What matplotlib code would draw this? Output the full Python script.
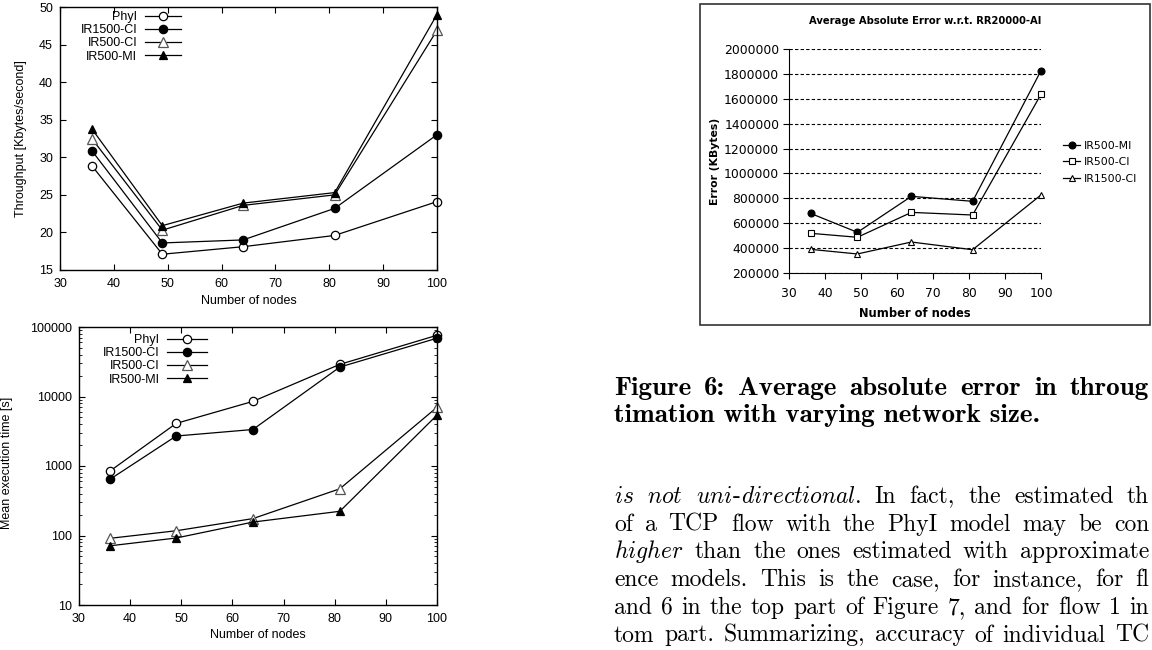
import matplotlib
matplotlib.use("Agg")
import matplotlib.pyplot as plt
from matplotlib.patches import Rectangle
from matplotlib.ticker import FuncFormatter, LogLocator, NullFormatter, MultipleLocator

# ================================================================
# DONNEES
# ================================================================
nodes = [36, 49, 64, 81, 100]

# Debit moyen [Kbytes/s]
thr_phyi = [28.8, 17.1, 18.1, 19.6, 24.1]
thr_ir1500_ci = [30.8, 18.6, 19.0, 23.2, 33.0]
thr_ir500_ci = [32.4, 20.3, 23.6, 25.0, 46.9]
thr_ir500_mi = [33.7, 20.9, 23.9, 25.3, 49.0]

# Temps d'execution moyen [s]
time_phyi = [840, 4100, 8500, 29000, 76000]
time_ir1500_ci = [640, 2700, 3350, 26500, 69000]
time_ir500_ci = [91, 117, 175, 470, 7000]
time_ir500_mi = [71, 92, 156, 223, 5400]

# Erreur absolue moyenne [KBytes]
err_ir500_mi = [679000, 527000, 816000, 776000, 1826000]
err_ir500_ci = [519000, 487000, 687000, 666000, 1636000]
err_ir1500_ci = [390000, 353000, 449000, 387000, 827000]

gp_labels = ["PhyI", "IR1500-CI", "IR500-CI", "IR500-MI"]
err_labels = ["IR500-MI", "IR500-CI", "IR1500-CI"]

# texte visible de la page (coupe au bord droit dans l'original)
caption_lines = ["Figure 6: Average absolute error in throug",
                 "timation with varying network size."]
body_lines = ["In fact, the estimated th",
              "of a TCP flow with the PhyI model may be con",
              "than the ones estimated with approximate",
              "ence models. This is the case, for instance, for fl",
              "and 6 in the top part of Figure 7, and for flow 1 in",
              "tom part. Summarizing, accuracy of individual TC"]

# ================================================================
# FIGURE
# ================================================================
W, H = 1152, 650
plt.rcParams['font.family'] = ['Liberation Sans', 'DejaVu Sans']
plt.rcParams['mathtext.fontset'] = 'cm'

fig = plt.figure(figsize=(W / 100, H / 100), dpi=100)


def px_box(l, t, r, b):
    # rectangle en pixels (origine en haut a gauche) -> coordonnees figure
    return [l / W, 1 - b / H, (r - l) / W, (b - t) / H]


gp_styles = [dict(marker='o', mfc='white', mec='black', ms=6),
             dict(marker='o', mfc='black', mec='black', ms=6),
             dict(marker='^', mfc='white', mec='#555555', ms=6.5),
             dict(marker='^', mfc='black', mec='black', ms=6)]


def gnuplot_style(ax):
    ax.tick_params(direction='in', top=True, right=True, labelsize=9,
                   length=4, width=0.8)
    ax.tick_params(axis='x', pad=6)
    ax.tick_params(axis='y', pad=5)
    for s in ax.spines.values():
        s.set_linewidth(1.0)


# --- Graphique 1 : debit ---
ax1 = fig.add_axes(px_box(60, 7, 437, 270))
for vals, lab, st in zip([thr_phyi, thr_ir1500_ci, thr_ir500_ci, thr_ir500_mi], gp_labels, gp_styles):
    ax1.plot(nodes, vals, color='black', lw=0.9, mew=0.9, label=lab, clip_on=False, **st)
ax1.set_xlim(30, 100)
ax1.set_ylim(15, 50)
ax1.xaxis.set_major_locator(MultipleLocator(10))
ax1.yaxis.set_major_locator(MultipleLocator(5))
gnuplot_style(ax1)
ax1.set_xlabel("Number of nodes", fontsize=9, labelpad=3)
ax1.set_ylabel("Throughput [Kbytes/second]", fontsize=9, labelpad=9)
ax1.legend(loc='upper right', bbox_to_anchor=(0.321, 0.985), frameon=False,
           markerfirst=False, handlelength=2.9, handletextpad=0.6,
           labelspacing=0.1, borderpad=0, borderaxespad=0, numpoints=1, fontsize=9)

# --- Graphique 2 : temps d'execution (log) ---
ax2 = fig.add_axes(px_box(79, 327, 437, 605))
for vals, lab, st in zip([time_phyi, time_ir1500_ci, time_ir500_ci, time_ir500_mi], gp_labels, gp_styles):
    ax2.plot(nodes, vals, color='black', lw=0.9, mew=0.9, label=lab, clip_on=False, **st)
ax2.set_yscale('log')
ax2.set_xlim(30, 100)
ax2.set_ylim(10, 100000)
ax2.xaxis.set_major_locator(MultipleLocator(10))
ax2.yaxis.set_major_locator(LogLocator(base=10))
ax2.yaxis.set_minor_locator(LogLocator(base=10, subs=range(2, 10)))
ax2.yaxis.set_major_formatter(FuncFormatter(lambda v, p: "%d" % v))
ax2.yaxis.set_minor_formatter(NullFormatter())
gnuplot_style(ax2)
ax2.tick_params(which='minor', direction='in', right=True, length=2, width=0.6)
ax2.set_xlabel("Number of nodes", fontsize=9, labelpad=3)
fig.text(7 / W, 1 - 463 / H, "Mean execution time [s]", rotation=90,
         ha='center', va='center', fontsize=9)
ax2.legend(loc='upper right', bbox_to_anchor=(0.3575, 0.975), frameon=False,
           markerfirst=False, handlelength=3.2, handletextpad=0.6,
           labelspacing=0.1, borderpad=0, borderaxespad=0, numpoints=1, fontsize=9)

# --- Graphique 3 : erreur absolue moyenne (style tableur) ---
fig.add_artist(Rectangle((700 / W, 1 - 325 / H), (1150 - 700) / W, (325 - 4) / H,
                         transform=fig.transFigure, fill=False, lw=1.2, ec='#333333'))
ax3 = fig.add_axes(px_box(789, 49, 1041, 273))
err_styles = [dict(marker='o', mfc='black', mec='black', ms=5),
              dict(marker='s', mfc='white', mec='black', ms=5),
              dict(marker='^', mfc='white', mec='black', ms=5)]
for vals, lab, st in zip([err_ir500_mi, err_ir500_ci, err_ir1500_ci], err_labels, err_styles):
    ax3.plot(nodes, vals, color='black', lw=0.9, mew=0.8, label=lab, clip_on=False, **st)
ax3.set_xlim(30, 100)
ax3.set_ylim(200000, 2000000)
ax3.xaxis.set_major_locator(MultipleLocator(10))
ax3.yaxis.set_major_locator(MultipleLocator(200000))
ax3.yaxis.set_major_formatter(FuncFormatter(lambda v, p: "%d" % v))
ax3.spines['top'].set_visible(False)
ax3.spines['right'].set_visible(False)
ax3.yaxis.grid(True, linestyle=(0, (3, 2)), color='black', lw=0.8)
ax3.set_axisbelow(True)
ax3.tick_params(direction='out', length=4, width=0.8, labelsize=8.9)
ax3.tick_params(axis='x', pad=6)
ax3.tick_params(axis='y', pad=3)
for lab in ax3.get_xticklabels() + ax3.get_yticklabels():
    lab.set_fontfamily('DejaVu Sans')
ax3.set_xlabel("Number of nodes", fontsize=8.3, fontweight='bold',
               family='DejaVu Sans', labelpad=5)
ax3.set_ylabel("Error (KBytes)", fontsize=7.8, fontweight='bold',
               family='DejaVu Sans', labelpad=3)
fig.text(925 / W, 1 - 21 / H, "Average Absolute Error w.r.t. RR20000-AI",
         ha='center', va='center', fontsize=7.2, fontweight='bold', family='DejaVu Sans')
ax3.legend(loc='upper left', bbox_to_anchor=(1063 / W, 1 - 141 / H),
           bbox_transform=fig.transFigure, frameon=False, handlelength=1.6,
           handletextpad=0.3, labelspacing=0.58, borderpad=0, borderaxespad=0,
           numpoints=1, prop=dict(family='DejaVu Sans', size=7.8))

# ================================================================
# TEXTE DE L'ARTICLE (legende + paragraphe justifie)
# ================================================================
renderer = fig.canvas.get_renderer()


def font_kw(style, size):
    kw = dict(fontsize=size, va='baseline', ha='left')
    if style == 'bf':
        kw['family'] = 'cmb10'
    elif style == 'rm':
        kw['family'] = 'cmr10'
    return kw


def justified_line(x_px, y_px, tokens, size, right_px):
    # tokens : liste de mots, chaque mot = liste de morceaux (texte, style)
    words = []
    for tok in tokens:
        parts, w = [], 0.0
        for s, style in tok:
            t = fig.text(0, 0, s, **font_kw(style, size))
            parts.append((t, w))
            w += t.get_window_extent(renderer).width
        words.append((parts, w))
    gap = (right_px - x_px - sum(w for _, w in words)) / max(len(words) - 1, 1)
    x = x_px
    for parts, w in words:
        for t, off in parts:
            t.set_position(((x + off) / W, 1 - y_px / H))
        x += w + gap


def words_of(s, style='rm'):
    return [[(w, style)] for w in s.split()]


justified_line(614, 395, words_of(caption_lines[0], 'bf'), 19.5, 1149)
fig.text(614 / W, 1 - 422 / H, caption_lines[1], **font_kw('bf', 19.5))

italic_start = [
    [[(r"$\mathit{is}$", 'it')], [(r"$\mathit{not}$", 'it')],
     [(r"$\mathit{uni}$", 'it'), ("-", 'rm'), (r"$\mathit{directional.}$", 'it')]],
    [],
    [[(r"$\mathit{higher}$", 'it')]],
    [], [], [],
]
for i, (lead, line) in enumerate(zip(italic_start, body_lines)):
    justified_line(614, 503 + i * 27.7, lead + words_of(line), 17, 1149)

fig.savefig("out.png", dpi=100, facecolor='white')
